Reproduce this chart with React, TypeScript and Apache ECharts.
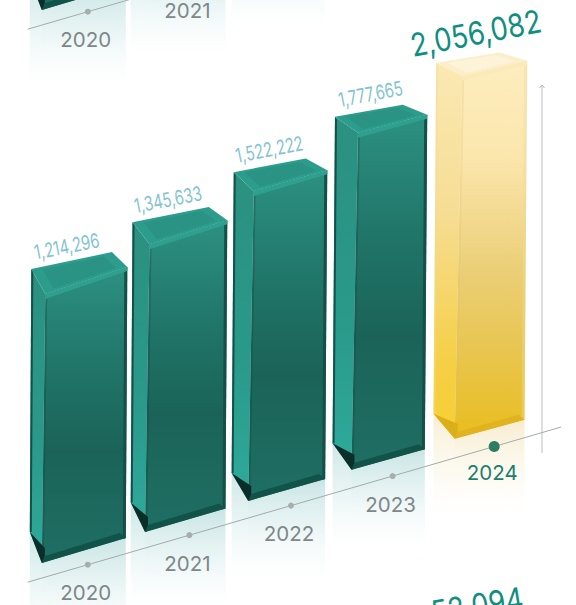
import React, { useEffect, useRef } from "react";
import * as echarts from "echarts";

const categories = ["2020", "2021", "2022", "2023", "2024"];
const revenue = [1214296, 1345633, 1522222, 1777665, 2056082];
// Panel scrolled off above: only the feet of its columns are on the page.
const upperPanelValues = [1100000, 1250000, 1400000, 1600000];
const nextPanelHeadline = "52,094";

const WIDTH = 576;
const HEIGHT = 605;
const SCALE_MIN = 252000;
const SCALE_MAX = 2520000;
const GRID_LEFT = 37;
const GRID_WIDTH = 508;
const GRID_HEIGHT = 385;
const GRID_TOP = 147;
const PANEL_STEP = 553;
const RISE = 29.55; // the floor climbs this much per category
const FONT = "Inter, 'Noto Sans', sans-serif";

const grad = (stops: [number, string][]) => ({
  type: "linear",
  x: 0,
  y: 0,
  x2: 0,
  y2: 1,
  colorStops: stops.map(([offset, color]) => ({ offset, color })),
});

const teal = {
  front: grad([[0, "#2c9182"], [0.35, "#207468"], [0.62, "#1b6358"], [1, "#1f6f64"]]),
  side: grad([[0, "#2b9080"], [0.6, "#2a9a8b"], [1, "#2eab9b"]]),
  top: "#2c9d8c",
  topInner: "#2a9383",
  rim: "#2f9f8e",
  edge: "#14504a",
  seam: "rgba(12,66,58,0.3)",
  foot: "#125349",
  corner: "#0b2e2a",
  mirror: grad([[0, "rgba(160,208,208,0.62)"], [0.45, "rgba(190,224,224,0.34)"], [1, "rgba(255,255,255,0)"]]),
  sheen: grad([[0, "rgba(255,255,255,0.18)"], [1, "rgba(255,255,255,0)"]]),
};
const gold = {
  front: grad([[0, "#fdeebf"], [0.25, "#fbe6ad"], [0.55, "#ebcf78"], [0.75, "#e8c653"], [1, "#e9bd1e"]]),
  side: grad([[0, "#fbe9b3"], [0.4, "#f6dd94"], [0.8, "#f5cf45"], [1, "#f8cf32"]]),
  top: "#fbeec8",
  topInner: "#fdf3d8",
  rim: "#fbe9ba",
  edge: "rgba(240,218,150,0.4)",
  seam: "rgba(226,190,100,0.25)",
  foot: "#e0b31f",
  corner: "#dcae18",
  mirror: grad([[0, "rgba(240,222,170,0.62)"], [0.5, "rgba(248,238,208,0.32)"], [1, "rgba(255,255,255,0)"]]),
  sheen: grad([[0, "rgba(255,255,255,0.2)"], [1, "rgba(255,255,255,0)"]]),
};

type Layer = "mirror" | "axis" | "bar";

// Everything for one column is worked out from the axis position of its value.
function columnGeometry(api: any, index: number, value: number, shift: number) {
  const floorY = api.coord([index, SCALE_MIN])[1] - RISE * index - shift;
  const topY = api.coord([index, value])[1] - RISE * index - shift;
  const tickX = api.coord([index, value])[0];
  const cx = tickX - (8.5 + index);
  const w = 96 - 1.25 * index;
  const left = cx - w / 2;
  const lean = 1.5 + 0.3 * index;
  const sideTop = 14 + 3 * index;
  const sideBottom = 12 + 2.3 * index;
  const drop = 31 - 1.5 * index;
  const dropRight = 25 - 1.5 * index;
  const tl = [left, topY];
  const tb = [left + w * (0.84 - 0.035 * index), topY - (17 - 1.7 * index)];
  const tr = [left + w, topY - 2];
  const tf = [left + sideTop, topY + 25 - 3 * index];
  const bl = [left - lean, floorY];
  const bf = [left - lean + sideBottom, floorY + drop];
  const br = [left + w - lean, floorY + drop - dropRight];
  return { tickX, floorY, topY, left, w, tl, tb, tr, tf, bl, bf, br };
}

const poly = (points: number[][], fill: any) => ({
  type: "polygon",
  shape: { points },
  style: { fill },
  silent: true,
});

function drawMirror(g: ReturnType<typeof columnGeometry>, pal: typeof teal) {
  const len = 98;
  const side = [g.bl, g.bf, [g.bf[0], g.bf[1] + len - 10], [g.bl[0], g.bl[1] + len + 10]];
  return [
    poly([g.bl, g.bf, g.br, [g.br[0], g.br[1] + len + 12], [g.bl[0], g.bl[1] + len + 12]], pal.mirror),
    poly(side, pal.sheen),
  ];
}

function drawColumn(g: ReturnType<typeof columnGeometry>, pal: typeof teal) {
  const { tl, tb, tr, tf, bl, bf, br } = g;
  const lerp = (a: number[], b: number[], t: number) => [a[0] + (b[0] - a[0]) * t, a[1] + (b[1] - a[1]) * t];
  const centre = [(tl[0] + tr[0] + tb[0] + tf[0]) / 4, (tl[1] + tr[1] + tb[1] + tf[1]) / 4];
  const inset = (p: number[]) => lerp(p, centre, 0.24);
  return [
    poly([tl, tf, bf, bl], pal.side),
    poly([tf, tr, br, bf], pal.front),
    poly([tr, [tr[0] - 3, tr[1] + 2], [br[0] - 3, br[1] + 1], br], pal.edge),
    poly([tl, [tl[0] + 2, tl[1] + 3], [bl[0] + 2, bl[1]], bl], pal.edge),
    poly([tf, [tf[0] + 2, tf[1]], [bf[0] + 2, bf[1]], bf], pal.seam),
    poly([tl, tb, tr, tf], pal.top),
    poly([inset(tl), inset(tb), inset(tr), inset(tf)], pal.topInner),
    poly([tf, tr, [tr[0], tr[1] + 4], [tf[0], tf[1] + 5]], pal.rim),
    poly([bf, br, [br[0] - 6, br[1] - 5], [bf[0] + 3, bf[1] - 7]], pal.foot),
    poly([bl, bf, [bf[0] + 3, bf[1] - 7], [bf[0] + 3, bf[1] - 15]], pal.corner),
  ] as any[];
}

function makeRenderer(layer: Layer, showValues: boolean, shift: number) {
  return (params: any, api: any) => {
    const index = api.value(0) as number;
    const value = api.value(1) as number;
    const g = columnGeometry(api, index, value, shift);
    const highlighted = categories[index] === "2024";
    const pal = highlighted ? gold : teal;
    const tickY = g.floorY + 32.7;

    if (layer === "mirror") return { type: "group", children: drawMirror(g, pal) };

    if (layer === "bar") {
      const children = drawColumn(g, pal);
      if (showValues) {
        children.push({
          type: "text",
          x: highlighted ? g.left + 39.5 : g.left + 35.5,
          y: highlighted ? g.topY - 30 : g.topY - 23,
          rotation: (11 * Math.PI) / 180,
          scaleX: highlighted ? 0.86 : 0.74,
          style: {
            text: value.toLocaleString("en-US"),
            fontFamily: FONT,
            fontWeight: 400,
            fontSize: highlighted ? 32 : 20,
            fill: highlighted ? "#0f8f7f" : "#83c4cf",
            align: "center",
            verticalAlign: "middle",
          },
        });
      }
      return { type: "group", children };
    }

    // Floor line, tick dot and year label.
    const half = GRID_WIDTH / categories.length / 2;
    const x0 = index === 0 ? g.tickX - 60 : g.tickX - half;
    const x1 = index === categories.length - 1 ? g.tickX + 67 : g.tickX + half;
    const slope = RISE / (half * 2);
    const children: any[] = [
      {
        type: "line",
        shape: { x1: x0, y1: tickY + (g.tickX - x0) * slope, x2: x1, y2: tickY - (x1 - g.tickX) * slope },
        style: { stroke: "#a3abab", lineWidth: 1 },
        silent: true,
      },
      {
        type: "circle",
        shape: { cx: g.tickX, cy: tickY, r: highlighted ? 5.5 : 3 },
        style: { fill: highlighted ? "#2e7d62" : "#a6aeae" },
        silent: true,
      },
    ];
    const labelY = tickY + (highlighted ? 26 : 28);
    if (labelY > 0) {
      children.push({
        type: "text",
        x: g.tickX - 2,
        y: labelY,
        style: {
          text: categories[index],
          fontFamily: FONT,
          fontSize: 20.5,
          fill: highlighted ? "#1d7f6e" : "#7f8787",
          align: "center",
          verticalAlign: "middle",
        },
      });
    }
    return { type: "group", children };
  };
}

function panelSeries(values: number[], showValues: boolean, shift: number) {
  const data = values.map((v, i) => [i, v]);
  return (["mirror", "axis", "bar"] as Layer[]).map((layer, order) => ({
    type: "custom",
    coordinateSystem: "cartesian2d",
    clip: false,
    silent: true,
    z: 2 + order,
    encode: { x: 0, y: 1 },
    data,
    renderItem: makeRenderer(layer, showValues, shift),
  }));
}

export default function App() {
  const ref = useRef<HTMLDivElement>(null);

  useEffect(() => {
    document.body.style.margin = "0";
    const chart = echarts.init(ref.current!, undefined, { renderer: "svg" });
    chart.setOption({
      animation: false,
      backgroundColor: "#ffffff",
      grid: { left: GRID_LEFT, width: GRID_WIDTH, top: GRID_TOP, height: GRID_HEIGHT },
      xAxis: { type: "category", data: categories, show: false },
      yAxis: { type: "log", min: SCALE_MIN, max: SCALE_MAX, show: false },
      series: [...panelSeries(upperPanelValues, false, PANEL_STEP), ...panelSeries(revenue, true, 0)],
      graphic: [
        {
          type: "line",
          shape: { x1: 542, y1: 86, x2: 542, y2: 453 },
          style: { stroke: "#c6c9c9", lineWidth: 1.2 },
          silent: true,
        },
        {
          type: "polyline",
          shape: { points: [[539.5, 88], [542, 85], [544.5, 88]] },
          style: { stroke: "#b5b9b9", lineWidth: 1, fill: "none" },
          silent: true,
        },
        {
          type: "text",
          x: 477,
          y: 605,
          rotation: (9 * Math.PI) / 180,
          scaleX: 0.86,
          style: {
            text: nextPanelHeadline,
            fontFamily: FONT,
            fontWeight: 400,
            fontSize: 32,
            fill: "#0f8f7f",
            align: "center",
            verticalAlign: "middle",
          },
          silent: true,
        },
      ],
    });
    return () => chart.dispose();
  }, []);

  return <div ref={ref} style={{ width: WIDTH, height: HEIGHT }} />;
}
